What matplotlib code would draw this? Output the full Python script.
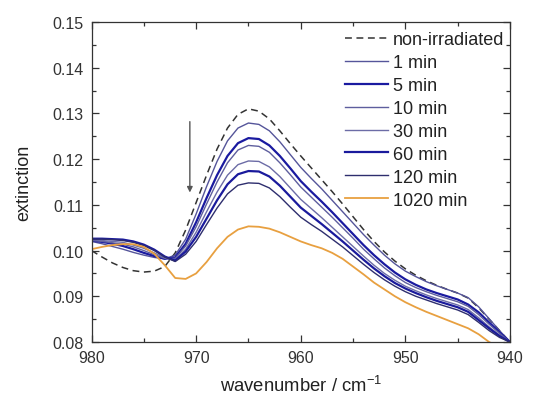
import matplotlib
matplotlib.use("Agg")
import matplotlib.pyplot as plt
import numpy as np
from matplotlib.ticker import MultipleLocator, FormatStrFormatter

plt.rcParams['font.family'] = ['Liberation Sans', 'DejaVu Sans']
plt.rcParams['mathtext.default'] = 'regular'

wavenumber = list(range(980, 939, -1))

non_irradiated = [.1000, .0986, .0973, .0963, .0956, .0953, .0955, .0965, .0995, .1045,
                  .1105, .1165, .1222, .1268, .1298, .1310, .1305, .1288, .1262, .1234,
                  .1207, .1181, .1155, .1129, .1102, .1074, .1046, .1020, .0997, .0977,
                  .0960, .0946, .0934, .0924, .0915, .0907, .0896, .0875, .0850, .0825, .0800]
min1 = [.1020, .1015, .1009, .1003, .0996, .0990, .0985, .0982, .0990, .1025,
        .1080, .1140, .1195, .1240, .1268, .1279, .1276, .1262, .1238, .1210,
        .1182, .1158, .1135, .1110, .1085, .1060, .1035, .1012, .0990, .0971,
        .0955, .0943, .0932, .0923, .0915, .0907, .0897, .0877, .0851, .0825, .0800]
min5 = [.1022, .1019, .1015, .1010, .1003, .0995, .0988, .0982, .0985, .1015,
        .1062, .1115, .1165, .1207, .1235, .1246, .1244, .1230, .1207, .1180,
        .1152, .1129, .1107, .1084, .1060, .1036, .1012, .0990, .0970, .0952,
        .0937, .0925, .0915, .0907, .0900, .0893, .0882, .0865, .0843, .0821, .0800]
min10 = [.1022, .1020, .1017, .1014, .1008, .1000, .0991, .0983, .0983, .1010,
         .1052, .1102, .1150, .1192, .1220, .1230, .1228, .1215, .1192, .1166,
         .1139, .1117, .1095, .1073, .1050, .1027, .1003, .0982, .0962, .0945,
         .0930, .0919, .0910, .0902, .0895, .0888, .0878, .0860, .0839, .0819, .0800]
min30 = [.1024, .1022, .1020, .1018, .1012, .1005, .0995, .0984, .0980, .1003,
         .1040, .1085, .1128, .1165, .1188, .1196, .1195, .1183, .1162, .1137,
         .1112, .1092, .1072, .1051, .1030, .1009, .0988, .0968, .0950, .0935,
         .0922, .0912, .0903, .0895, .0888, .0881, .0871, .0853, .0833, .0815, .0800]
min60 = [.1026, .1026, .1025, .1024, .1020, .1013, .1002, .0987, .0978, .0998,
         .1030, .1070, .1110, .1145, .1167, .1174, .1173, .1162, .1142, .1118,
         .1094, .1076, .1058, .1039, .1020, .1000, .0980, .0961, .0944, .0929,
         .0917, .0907, .0898, .0890, .0883, .0876, .0866, .0848, .0830, .0813, .0800]
min120 = [.1025, .1025, .1024, .1022, .1018, .1011, .1000, .0986, .0976, .0992,
          .1020, .1057, .1093, .1124, .1143, .1148, .1147, .1137, .1118, .1095,
          .1073, .1057, .1042, .1025, .1008, .0989, .0970, .0952, .0936, .0922,
          .0910, .0900, .0892, .0884, .0877, .0870, .0860, .0843, .0825, .0810, .0800]
min1020 = [.1003, .1008, .1012, .1014, .1014, .1008, .0993, .0968, .0940, .0938,
           .0950, .0975, .1005, .1030, .1046, .1053, .1052, .1048, .1040, .1030,
           .1020, .1012, .1005, .0995, .0982, .0965, .0948, .0930, .0915, .0900,
           .0887, .0876, .0866, .0857, .0848, .0839, .0830, .0817, .0800, .0788, .0776]

labels = ['non-irradiated', '1 min', '5 min', '10 min', '30 min', '60 min', '120 min', '1020 min']
series = [non_irradiated, min1, min5, min10, min30, min60, min120, min1020]
colors = ['#333333', '#55559a', '#1a1aa0', '#5e5e9e', '#6c6ca6', '#1a1a9c', '#2e2e6e', '#e8a040']
widths = [1.1, 1.0, 1.6, 1.0, 1.0, 1.6, 1.0, 1.3]
styles = ['--', '-', '-', '-', '-', '-', '-', '-']

fig = plt.figure(figsize=(5.42, 4.02), dpi=100)
ax = fig.add_axes([91.5 / 542, 59 / 402, 418.5 / 542, 320 / 402])

for y, lab, c, lw, ls in zip(series, labels, colors, widths, styles):
    if ls == '--':
        ax.plot(wavenumber, y, color=c, lw=lw, ls='--', dashes=(4.5, 3), label=lab)
    else:
        ax.plot(wavenumber, y, color=c, lw=lw, ls='-', label=lab)

ax.annotate('', xy=(970.6, 0.1127), xytext=(970.6, 0.1282),
            arrowprops=dict(arrowstyle='-|>', color='#555555', lw=1.0,
                            mutation_scale=8, shrinkA=0, shrinkB=0))

ax.set_xlim(980, 940)
ax.set_ylim(0.08, 0.15)
ax.xaxis.set_major_locator(MultipleLocator(10))
ax.xaxis.set_minor_locator(MultipleLocator(5))
ax.yaxis.set_major_locator(MultipleLocator(0.01))
ax.yaxis.set_minor_locator(MultipleLocator(0.005))
ax.yaxis.set_major_formatter(FormatStrFormatter('%.2f'))
ax.tick_params(which='both', direction='in', top=True, right=True,
               labelsize=11.5, colors='#333333', width=0.9, pad=6)
ax.tick_params(which='major', length=5)
ax.tick_params(which='minor', length=3)
for s in ax.spines.values():
    s.set_linewidth(0.9)
    s.set_color('#333333')

ax.set_xlabel('wavenumber / cm$^{-1}$', fontsize=13.3, color='#222222', labelpad=7)
ax.set_ylabel('extinction', fontsize=13, color='#222222', labelpad=14)

leg = ax.legend(loc='upper right', frameon=False, fontsize=13, handlelength=2.35,
                handletextpad=0.3, labelspacing=0.33, borderaxespad=0.1,
                bbox_to_anchor=(1.008, 1.0))
for t in leg.get_texts():
    t.set_color('#222222')

fig.savefig('out.png', dpi=100)
